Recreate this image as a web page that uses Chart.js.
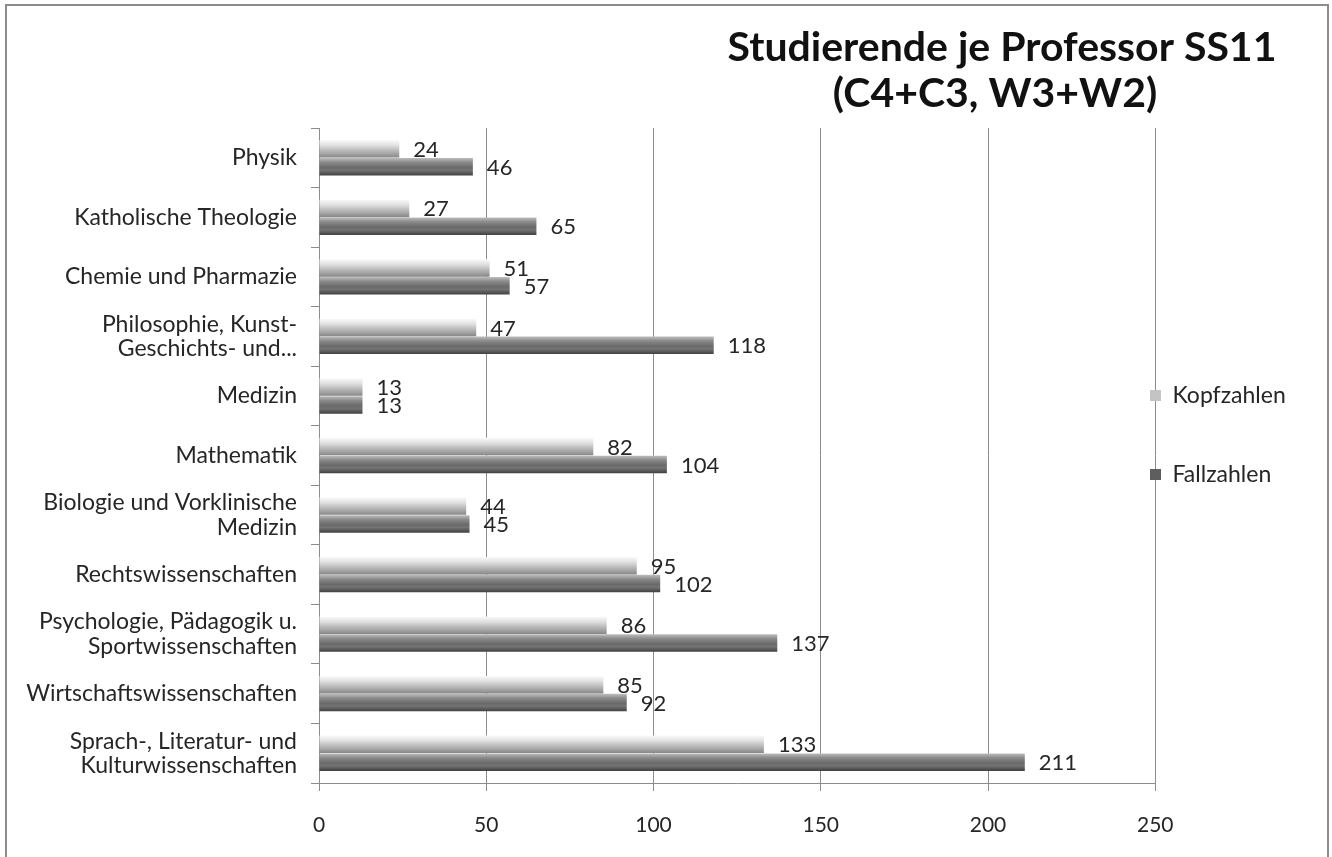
<!DOCTYPE html>
<html>
<head>
<meta charset="utf-8">
<script src="https://cdn.jsdelivr.net/npm/chart.js@4.4.1/dist/chart.umd.min.js"></script>
<style>
    html, body { margin: 0; padding: 0; background: #ffffff; overflow: hidden; }
    #frame {
        position: absolute; left: 5px; top: 4px; width: 1320px; height: 900px;
        border: 2px solid #8c8c8c;
    }
    #wrap { position: absolute; left: 0; top: 0; width: 1332px; height: 857px; }
</style>
</head>
<body>
<div id="frame"></div>
<div id="wrap"><canvas id="profChart"></canvas></div>
<script>
// Studierende je Professor SS11 (C4+C3, W3+W2)
const categories = [
    'Physik',
    'Katholische Theologie',
    'Chemie und Pharmazie',
    ['Philosophie, Kunst-', 'Geschichts- und...'],
    'Medizin',
    'Mathematik',
    ['Biologie und Vorklinische', 'Medizin'],
    'Rechtswissenschaften',
    ['Psychologie, Pädagogik u.', 'Sportwissenschaften'],
    'Wirtschaftswissenschaften',
    ['Sprach-, Literatur- und', 'Kulturwissenschaften']
];
const kopfzahlen = [24, 27, 51, 47, 13, 82, 44, 95, 86, 85, 133];
const fallzahlen = [46, 65, 57, 118, 13, 104, 45, 102, 137, 92, 211];
const seriesNames = ['Kopfzahlen', 'Fallzahlen'];
const titleLines = ['Studierende je Professor SS11', '(C4+C3, W3+W2)'];
const xTicks = [0, 50, 100, 150, 200, 250];

const FONT = "Lato, 'Open Sans', sans-serif";
const TEXT = '#262626';

// 3D-ish cylinder gradients for the bars
const gradientStops = [
    [[0, '#fafafa'], [0.3, '#e0e0e0'], [0.55, '#c0c0c0'], [0.8, '#a2a2a2'], [1, '#868686']],
    [[0, '#bdbdbd'], [0.25, '#8a8a8a'], [0.55, '#696969'], [0.7, '#747474'], [1, '#404040']]
];

const barShading = {
    id: 'barShading',
    beforeDatasetsDraw(chart) {
        const ctx = chart.ctx;
        chart.data.datasets.forEach((ds, di) => {
            chart.getDatasetMeta(di).data.forEach(bar => {
                const top = bar.y - bar.height / 2;
                const g = ctx.createLinearGradient(0, top, 0, top + bar.height);
                gradientStops[di].forEach(s => g.addColorStop(s[0], s[1]));
                bar.options = Object.assign({}, bar.options, { backgroundColor: g });
            });
        });
    }
};

const valueLabels = {
    id: 'valueLabels',
    afterDatasetsDraw(chart) {
        const ctx = chart.ctx;
        ctx.save();
        ctx.font = '22px ' + FONT;
        ctx.fillStyle = TEXT;
        ctx.textAlign = 'left';
        ctx.textBaseline = 'middle';
        chart.data.datasets.forEach((ds, di) => {
            chart.getDatasetMeta(di).data.forEach((bar, i) => {
                ctx.fillText(String(ds.data[i]), bar.x + 14, bar.y + 1);
            });
        });
        ctx.restore();
    }
};

// title sits top right, lines centred on each other
const titleBlock = {
    id: 'titleBlock',
    afterDraw(chart) {
        const ctx = chart.ctx;
        ctx.save();
        ctx.font = 'bold 41px ' + FONT;
        ctx.fillStyle = '#111111';
        ctx.textAlign = 'center';
        ctx.textBaseline = 'middle';
        ctx.fillText(titleLines[0], 1002, 48);
        ctx.fillText(titleLines[1], 995, 94);
        ctx.restore();
    }
};

// move legend so it hangs over the right edge of the plot, like the original
const legendNudge = {
    id: 'legendNudge',
    afterLayout(chart) {
        const lg = chart.legend;
        const pad = lg.options.labels.padding;
        const dx = 1150 - (lg.left + pad);
        lg.left += dx; lg.right += dx;
        const colH = lg.columnSizes[0].height;
        const y0 = (lg.top + pad + lg.bottom - colH) / 2;
        const dy = 384 - y0;
        lg.top += dy; lg.bottom += dy;
    }
};

new Chart(document.getElementById('profChart'), {
    type: 'bar',
    data: {
        labels: categories,
        datasets: [{
            label: seriesNames[0],
            data: kopfzahlen,
            backgroundColor: '#c4c4c4',
            borderWidth: 0,
            categoryPercentage: 0.6,
            barPercentage: 0.98
        }, {
            label: seriesNames[1],
            data: fallzahlen,
            backgroundColor: '#5e5e5e',
            borderWidth: 0,
            categoryPercentage: 0.6,
            barPercentage: 0.98
        }]
    },
    options: {
        indexAxis: 'y',
        responsive: true,
        maintainAspectRatio: false,
        animation: false,
        layout: { padding: { top: 128, left: 0, right: -25, bottom: 0 } },
        plugins: {
            title: { display: false },
            tooltip: { enabled: false },
            legend: {
                position: 'right',
                labels: {
                    boxWidth: 11,
                    boxHeight: 11,
                    padding: 56,
                    color: TEXT,
                    font: { family: FONT, size: 23 }
                }
            }
        },
        scales: {
            x: {
                min: 0,
                max: 250,
                afterBuildTicks(scale) {
                    scale.ticks = xTicks.map(v => ({ value: v }));
                },
                afterFit(scale) { scale.height = 74; },
                grid: {
                    color: '#8c8c8c',
                    lineWidth: 1,
                    drawTicks: true,
                    tickLength: 8
                },
                border: { display: true, color: '#8c8c8c' },
                ticks: {
                    padding: 22,
                    color: TEXT,
                    font: { family: FONT, size: 21 }
                }
            },
            y: {
                afterFit(scale) { scale.width = 319; },
                grid: {
                    drawOnChartArea: false,
                    drawTicks: true,
                    tickLength: 8,
                    color: '#8c8c8c'
                },
                border: { display: true, color: '#8c8c8c' },
                ticks: {
                    padding: 14,
                    crossAlign: 'near',
                    color: TEXT,
                    font: { family: FONT, size: 23, lineHeight: 1.05 }
                }
            }
        }
    },
    plugins: [barShading, valueLabels, titleBlock, legendNudge]
});
</script>
</body>
</html>
